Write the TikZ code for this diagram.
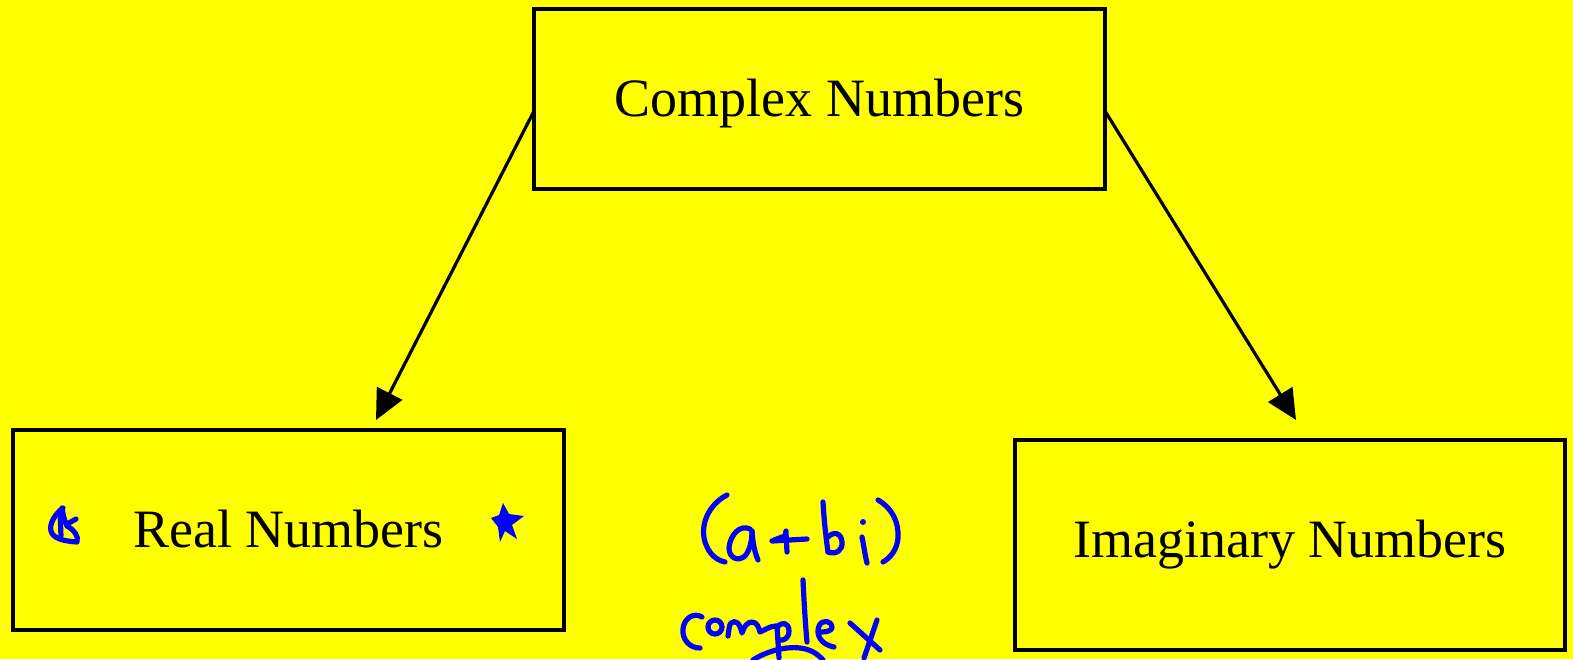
\documentclass[tikz,border=0pt]{standalone}
\usepackage{fontspec}
\setmainfont{Liberation Serif}
\usetikzlibrary{arrows.meta}
\definecolor{bgyellow}{RGB}{255,255,0}
\definecolor{inkblue}{RGB}{0,0,255}
\begin{document}
\begin{tikzpicture}[x=0.5pt,y=-0.5pt,
  box/.style={draw=black,line width=1.7pt,fill=bgyellow,inner sep=0pt,text height=17.8pt,text depth=0pt,font=\fontsize{27}{30}\selectfont},
  conn/.style={draw=black,line width=1.6pt,-{Triangle[length=15pt,width=14pt]}},
  ink/.style={draw=inkblue,line width=2.6pt,line cap=round,line join=round}]
\fill[bgyellow] (0,0) rectangle (1573,659);
\useasboundingbox (0,0) rectangle (1573,659);
\node[box,minimum width=285.5pt,minimum height=90pt] (C) at (819.5,99) {Complex Numbers};
\node[box,minimum width=275.5pt,minimum height=100pt] (R) at (288.5,530) {Real Numbers};
\node[box,minimum width=275pt,minimum height=105pt] (I) at (1290,545) {\raisebox{2.5pt}{Imaginary Numbers}};
\coordinate (ls) at (534,111);
\coordinate (lt) at (376,420);
\coordinate (rs) at (1105,111);
\coordinate (rt) at (1296,420);
\draw[conn] (ls) -- (lt);
\draw[conn] (rs) -- (rt);
% left star scribble
\draw[ink] (63,508) .. controls (55,514) and (49,524) .. (51,531) .. controls (53,538) and (62,541) .. (77,542) .. controls (79,536) and (74,530) .. (67,526) .. controls (64,520) and (63,514) .. (62,508);
\draw[ink] (67,524) -- (76,519);
\draw[ink] (60,512) -- (61,536);
% right star
\fill[inkblue] (503,503) -- (509,514) -- (524,516) -- (512,525) -- (517,539) -- (505,531) -- (500,542) -- (498,527) -- (491,518) -- (499,515) -- cycle;
% (a+bi)
\draw[ink] (727,495) .. controls (708,505) and (700,525) .. (705,542) .. controls (709,554) and (716,560) .. (725,562);
\draw[ink] (750,529) .. controls (740,524) and (730,535) .. (729,548) .. controls (729,558) and (738,562) .. (745,556) .. controls (750,550) and (752,540) .. (752,531);
\draw[ink] (752,531) .. controls (753,545) and (755,553) .. (758,560);
\draw[ink] (772,541) -- (807,539);
\draw[ink] (786,531) -- (785,536) -- (774,540);
\draw[ink] (786,533) -- (787,552);
\draw[ink] (823,502) .. controls (824,520) and (826,538) .. (828,552);
\draw[ink] (827,538) .. controls (833,531) and (841,532) .. (842,542) .. controls (843,550) and (836,555) .. (828,552);
\fill[inkblue] (863,522) circle[radius=3];
\draw[ink] (862,537) .. controls (864,547) and (865,555) .. (867,563);
\draw[ink] (878,500) .. controls (892,508) and (899,522) .. (898,538) .. controls (897,550) and (890,558) .. (883,562);
% complex
\draw[ink] (702,617) .. controls (694,612) and (684,618) .. (683,629) .. controls (682,640) and (690,648) .. (700,648);
\draw[ink] (715,627) ellipse[x radius=7,y radius=7];
\draw[ink] (728,636) .. controls (729,630) and (729,625) .. (731,623) .. controls (736,619) and (740,624) .. (742,633) .. controls (744,627) and (747,622) .. (752,622) .. controls (757,622) and (759,628) .. (760,632) .. controls (765,630) and (770,626) .. (776,626);
\draw[ink] (777,626) -- (779,658);
\draw[ink] (777,628) .. controls (781,621) and (789,622) .. (789,631) .. controls (789,638) and (784,641) .. (779,640);
\draw[ink] (803,580) .. controls (804,600) and (805,620) .. (807,642);
\draw[ink] (821,632) .. controls (826,632) and (831,631) .. (832,628) .. controls (832,620) and (822,619) .. (819,626) .. controls (816,633) and (819,644) .. (834,647);
\draw[ink] (850,623) -- (880,650);
\draw[ink] (877,620) -- (864,658);
\draw[ink] (753,660) .. controls (765,652) and (785,646) .. (800,648) .. controls (810,649) and (818,654) .. (823,660);
\end{tikzpicture}
\end{document}
